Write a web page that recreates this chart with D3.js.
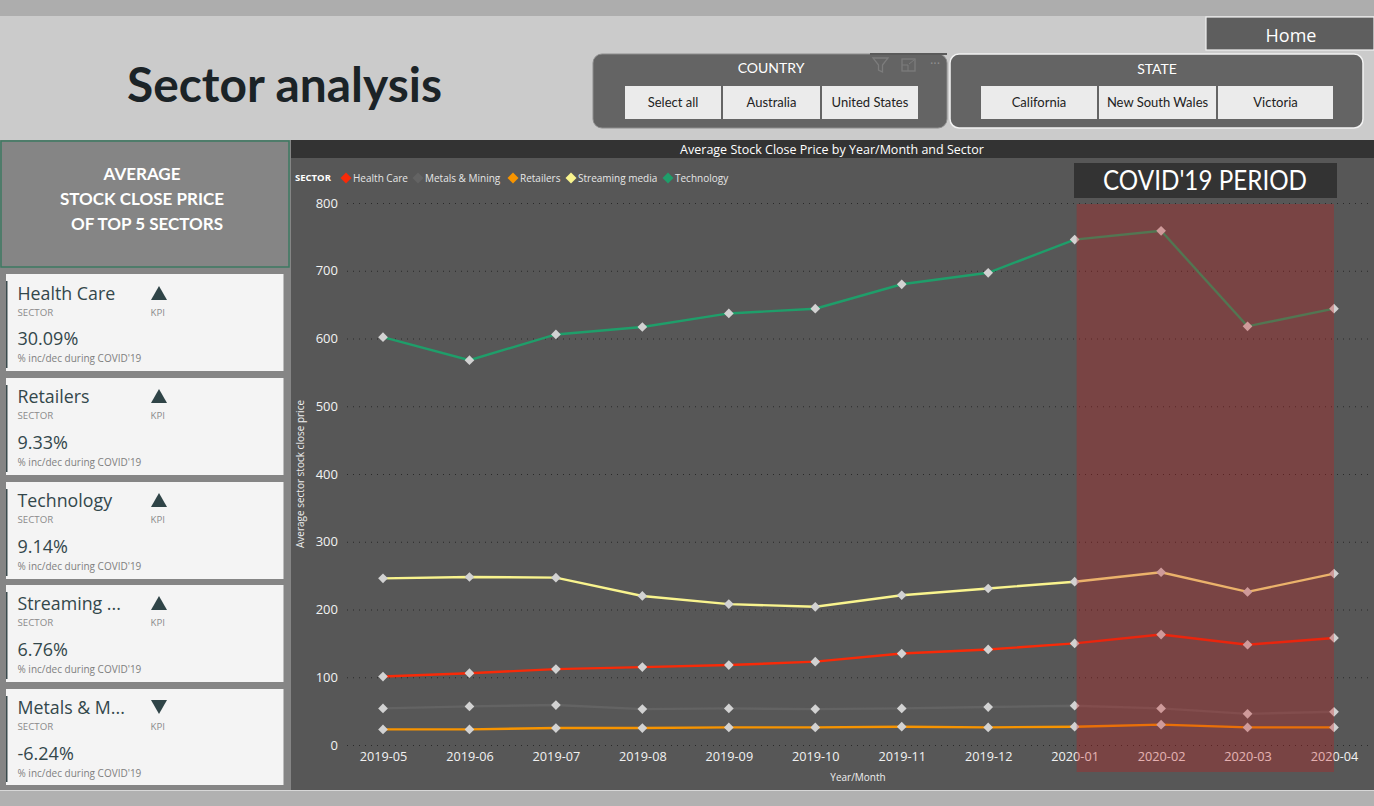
<!DOCTYPE html>
<html><head><meta charset="utf-8">
<script src="https://cdn.jsdelivr.net/npm/d3@7/dist/d3.min.js"></script>
<style>html,body{margin:0;padding:0;background:#ccc;overflow:hidden}svg{display:block}text{font-family:"Open Sans",sans-serif}.l{font-family:Lato,sans-serif}</style>
</head><body><svg id="c" width="1374" height="806"></svg>
<script>
const months=["2019-05","2019-06","2019-07","2019-08","2019-09","2019-10","2019-11","2019-12","2020-01","2020-02","2020-03","2020-04"];
const yTicks=[0,100,200,300,400,500,600,700,800];
const sectors=["Health Care","Metals & Mining","Retailers","Streaming media","Technology"];
const healthCare=[101,106,112,115,118,123,135,141,150,163,148,158];
const metalsMining=[54,57,59,53,54,53,54,56,58,54,46,49];
const retailers=[23,23,25,25,26,26,27,26,27,30,26,26];
const streamingMedia=[246,248,247,220,208,204,221,231,241,255,226,253];
const technology=[602,568,606,617,637,644,680,697,746,759,618,644];
const seriesValues=[healthCare,metalsMining,retailers,streamingMedia,technology];
const sectorColors=["#f82a08","#636363","#f79400","#f9f48e","#1f9e6a"];
const kpiNames=["Health Care","Retailers","Technology","Streaming ...","Metals & M..."];
const kpiValues=["30.09%","9.33%","9.14%","6.76%","-6.24%"];
const kpiUp=[true,true,true,true,false];
const countryButtons=["Select all","Australia","United States"];
const stateButtons=["California","New South Wales","Victoria"];

const svg=d3.select("#c");
const R=(x,y,w,h,f,o={})=>{const r=svg.append("rect").attr("x",x).attr("y",y).attr("width",w).attr("height",h).attr("fill",f);for(const k in o)r.attr(k,o[k]);return r};
const T=(x,y,s,size,f,o={})=>{const t=svg.append("text").attr("x",x).attr("y",y).text(s).attr("font-size",size).attr("fill",f);for(const k in o)t.attr(k,o[k]);return t};

// page
R(0,0,1374,806,"#cbcbcb");
R(0,0,1374,16,"#adadad");
R(0,791,1374,15,"#b1b1b1");
R(0,789,1374,2,"#d8d8d8");
R(0,140,291,650,"#858585");

// title
T(127,102,"Sector analysis",47,"#1b2327",{class:"l","font-weight":700,"textLength":315,"lengthAdjust":"spacingAndGlyphs"});

// home
R(1206,17,168,33,"#5e5e5e",{stroke:"#f0f0f0","stroke-width":1.2});
T(1291,42,"Home",18,"#fff",{"text-anchor":"middle"});

// slicers
R(593,54,354,74,"#646464",{rx:9,stroke:"#8c8c8c","stroke-width":1});
R(950,54,413,74,"#646464",{rx:9,stroke:"#f2f2f2","stroke-width":1.5});
T(771,73,"COUNTRY",14,"#fff",{"text-anchor":"middle",class:"l"});
T(1157,74,"STATE",14,"#fff",{"text-anchor":"middle",class:"l"});
const cb=[[625,96],[723,97],[822,96]],sb=[[981,116],[1099,117],[1218,115]];
countryButtons.forEach((s,i)=>{R(cb[i][0],86,cb[i][1],33,"#ebebeb");T(cb[i][0]+cb[i][1]/2,107,s,13,"#222",{"text-anchor":"middle",class:"l"})});
stateButtons.forEach((s,i)=>{R(sb[i][0],86,sb[i][1],33,"#ebebeb");T(sb[i][0]+sb[i][1]/2,107,s,13,"#222",{"text-anchor":"middle",class:"l"})});
// visual header icons
R(870,53,77,2,"#5a5a5a");
svg.append("path").attr("d","M873 58H888L882.5 65V72L878.5 70V65Z").attr("fill","none").attr("stroke","#7c7c7c").attr("stroke-width",1.3);
R(902,59,13,12,"none",{stroke:"#7c7c7c","stroke-width":1.3});
svg.append("path").attr("d","M908 71V65H902M909 64L914 60").attr("fill","none").attr("stroke","#7c7c7c");
T(935,68,"···",13,"#909090",{"text-anchor":"middle"});

// heading card
R(1,141,288,126,"#858585",{stroke:"#3d7a62","stroke-width":1.5});
[["AVERAGE",142,180],["STOCK CLOSE PRICE",142,205],["OF TOP 5 SECTORS",147,230]].forEach(d=>T(d[1],d[2],d[0],17,"#fff",{"text-anchor":"middle",class:"l","font-weight":700}));

// KPI cards
const cardY=[274,378,482,585,689],cardH=[97,97,97,97,96];
kpiNames.forEach((n,i)=>{const y=cardY[i],o=i?1:0;
 R(6,y,277.5,cardH[i],"#f4f4f4");
 R(6,y+7,1.5,cardH[i]-10,"#3a4a4d");
 T(17.5,y+25.5-o,n,17.8,"#33474b");
 T(17.5,y+41.5-o,"SECTOR",9.7,"#8b8b8b");
 T(150.5,y+41.5-o,"KPI",9.7,"#8b8b8b");
 const cx=159,cy=y+19-o;
 svg.append("path").attr("d",kpiUp[i]?`M${cx-8} ${cy+7}L${cx} ${cy-7}L${cx+8} ${cy+7}Z`:`M${cx-8} ${cy-7}L${cx} ${cy+7}L${cx+8} ${cy-7}Z`).attr("fill","#2f4447");
 T(17.5,y+71,kpiValues[i],18,"#33474b");
 T(17.5,y+88,"% inc/dec during COVID'19",10,"#7f7f7f");
});

// chart panel
R(291,140,1083,650,"#575757");
R(291,140,1083,18,"#333333");
T(832,154,"Average Stock Close Price by Year/Month and Sector",12.5,"#fff",{"text-anchor":"middle"});

const x=d3.scalePoint().domain(months).range([383,1334]);
const y=d3.scaleLinear().domain([0,800]).range([745,203]);
const clr=d3.scaleOrdinal().domain(sectors).range(sectorColors);

// gridlines
const yAxis=d3.axisLeft(y).tickValues(yTicks).tickSize(-(1371-347)).tickPadding(9);
const gy=svg.append("g").attr("transform","translate(347,0)").call(yAxis);
gy.select(".domain").remove();
gy.selectAll("line").attr("stroke","#2a2a2a").attr("stroke-width",1).attr("stroke-dasharray","1 5");
gy.selectAll("text").attr("fill","#f2f2f2").attr("font-size",13).attr("dy","0.32em");

const gx=svg.append("g").attr("transform","translate(0,745)").call(d3.axisBottom(x).tickSize(0).tickPadding(7));
gx.select(".domain").remove();
gx.selectAll("text").attr("fill","#f2f2f2").attr("font-size",12.7);
T(858,781,"Year/Month",10,"#eee",{"text-anchor":"middle"});
T(0,0,"Average sector stock close price",10,"#eee",{"text-anchor":"middle",transform:"translate(304,474) rotate(-90)"});

// legend
T(295,181,"SECTOR",9.5,"#fff",{"font-weight":700});
const legX=[346,418,513,571,668];
const legendMark=d3.symbol(d3.symbolDiamond2,78);
sectors.forEach((s,i)=>{
 svg.append("path").attr("d",legendMark).attr("transform",`translate(${legX[i]},178)`).attr("fill",clr(s));
 T(legX[i]+7,181.5,s,10,"#e6e6e6");
});

// series
const line=d3.line().x((d,i)=>x(months[i])).y(d=>y(d));
const dia=d3.symbol(d3.symbolDiamond2,60);
seriesValues.forEach((v,k)=>{
 svg.append("path").datum(v).attr("d",line).attr("fill","none").attr("stroke",sectorColors[k]).attr("stroke-width",2.4);
});
seriesValues.forEach(v=>{
 svg.selectAll(null).data(v).enter().append("path").attr("d",dia)
  .attr("transform",(d,i)=>`translate(${x(months[i])},${y(d)})`).attr("fill","#d2d2d2");
});

// covid band
const bandL=x("2020-01")+2,bandR=x("2020-04");
R(bandL,204,bandR-bandL,568,"#cb1b1b",{opacity:0.3});
R(1074,163,263,35,"#333333");
T(1205,190,"COVID'19 PERIOD",26,"#fff",{"text-anchor":"middle",class:"l","textLength":204,"lengthAdjust":"spacingAndGlyphs"});
</script></body></html>
